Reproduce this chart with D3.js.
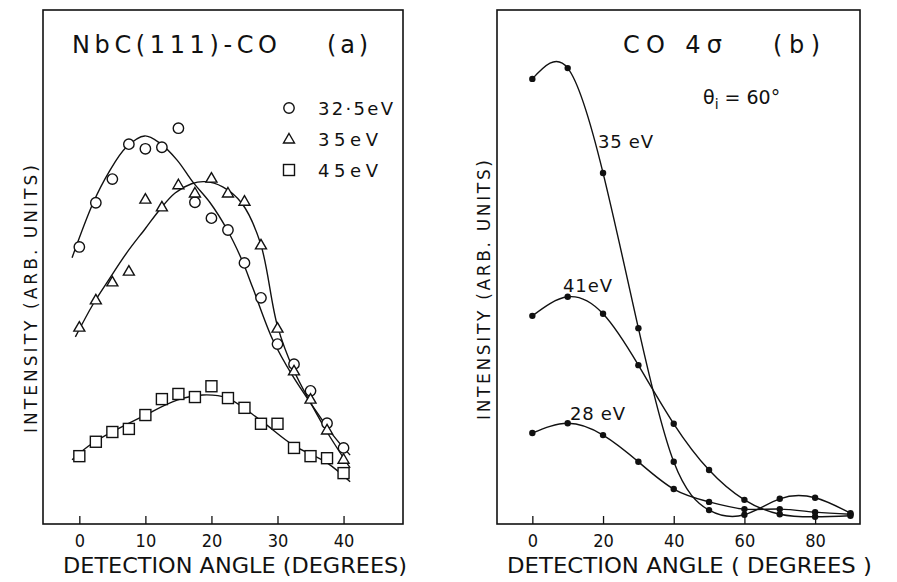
<!DOCTYPE html>
<html>
<head>
<meta charset="utf-8">
<script src="https://cdn.jsdelivr.net/npm/d3@7"></script>
<style>
  body { margin: 0; background: #fff; }
  svg { display: block; font-family: "DejaVu Sans", sans-serif; }
  .tick text { font-size: 18px; fill: #111; }
</style>
</head>
<body>
<div id="chart"></div>
<script>
// panel (a): NbC(111)-CO, angle step 2.5 deg
var anglesA = [0, 2.5, 5, 7.5, 10, 12.5, 15, 17.5, 20, 22.5, 25, 27.5, 30, 32.5, 35, 37.5, 40];
var int325 = [53.9, 62.5, 67.1, 73.9, 73.0, 73.3, 77.0, 62.6, 59.5, 57.2, 50.8, 44.0, 35.0, 31.1, 25.9, 19.6, 14.8];
var int35a = [38.3, 43.6, 47.1, 49.2, 63.2, 61.7, 66.0, 64.4, 67.3, 64.4, 62.8, 54.3, 38.1, 29.8, 24.3, 18.3, 12.6];
var int45 = [13.2, 16.0, 17.9, 18.5, 21.2, 24.3, 25.3, 24.7, 26.8, 24.5, 22.6, 19.5, 19.5, 14.8, 13.2, 12.8, 9.9];

// hand-drawn smooth fits
var fitAng325 = [-1.1, 2.1, 4.5, 7.1, 9.9, 12.2, 14.8, 17.2, 19.8, 22.4, 24.6, 26.3, 29.3, 32.3, 35.4, 38.4, 41.0];
var fitInt325 = [51.8, 62.5, 68.5, 73.3, 75.5, 74.1, 70.8, 66.5, 62.5, 57.2, 51.4, 45.8, 35.8, 28.8, 22.8, 17.3, 13.4];
var fitAng35a = [-0.6, 2.1, 4.6, 7.2, 10, 12.2, 14.5, 17, 19, 21.7, 24.6, 27.4, 30, 32.5, 35, 37.5, 41.0];
var fitInt35a = [36.4, 42.8, 47.8, 52.8, 57.5, 61.2, 64.4, 66.2, 66.6, 65.6, 62.4, 54.7, 38.5, 29.8, 23.6, 17.9, 10.9];
var fitAng45 = [-1.1, 2.1, 9.7, 14.8, 18.7, 22.4, 27.4, 32.3, 37.5, 41.0];
var fitInt45 = [12.5, 15.8, 21.0, 24.1, 25.1, 24.5, 20.2, 15.4, 11.9, 8.2];

var ticksA = [0, 10, 20, 30, 40];
var legendA = ["32·5eV", "35eV", "45eV"];

// panel (b): CO 4σ, θi = 60°
var anglesB = [0, 10, 20, 30, 40, 50, 60, 70, 80, 90];
var int35b = [86.6, 88.7, 68.3, 38.1, 12.1, 2.7, 1.8, 4.9, 5.1, 2.1];
var int41 = [40.5, 44.2, 40.9, 30.9, 19.5, 10.5, 4.7, 1.9, 1.4, 1.6];
var int28 = [17.7, 19.6, 17.3, 12.1, 6.8, 4.3, 2.9, 2.9, 2.3, 1.9];
var ticksB = [0, 20, 40, 60, 80];

var W = 897, H = 582;
var ink = "#111";

var svg = d3.select("#chart").append("svg")
    .attr("width", W)
    .attr("height", H);

svg.append("rect").attr("width", W).attr("height", H).attr("fill", "#fff");

// scales
var xA = d3.scaleLinear().domain([-5.5, 49]).range([43, 403]);
var xB = d3.scaleLinear().domain([-10, 92.7]).range([497, 860]);
var yS = d3.scaleLinear().domain([0, 100]).range([524, 10]);

function frame(x) {
    svg.append("rect")
        .attr("x", x.range()[0]).attr("y", yS.range()[1])
        .attr("width", x.range()[1] - x.range()[0])
        .attr("height", yS.range()[0] - yS.range()[1])
        .attr("fill", "none").attr("stroke", ink).attr("stroke-width", 1.6);
}
frame(xA);
frame(xB);

function axis(x, ticks) {
    var g = svg.append("g")
        .attr("transform", "translate(0," + yS.range()[0] + ")")
        .call(d3.axisBottom(x).tickValues(ticks).tickSize(-8).tickPadding(10).tickFormat(d3.format("d")));
    g.select(".domain").remove();
    g.selectAll(".tick line").attr("stroke", ink).attr("stroke-width", 1.3);
    g.selectAll(".tick text").attr("font-family", "DejaVu Sans Condensed, DejaVu Sans").attr("font-weight", 300);
}
axis(xA, ticksA);
axis(xB, ticksB);

function label(txt, x, y, size, len, rot, mode) {
    var t = svg.append("text")
        .attr("x", x).attr("y", y)
        .attr("font-size", size)
        .attr("fill", ink)
        .text(txt);
    if (len) t.attr("textLength", len).attr("lengthAdjust", mode || "spacingAndGlyphs");
    if (rot) t.attr("transform", "rotate(-90," + x + "," + y + ")");
    return t;
}

// axis titles
label("DETECTION ANGLE (DEGREES)", 63, 573, 21, 344);
label("DETECTION ANGLE ( DEGREES )", 507, 573, 21, 365);
label("INTENSITY  (ARB. UNITS)", 37, 433, 17, 268, true, "spacing");
label("INTENSITY  (ARB. UNITS)", 490, 420, 17, 260, true, "spacing");

// panel titles
label("NbC(111)-CO", 72, 53, 24, 205, false, "spacing");
label("(a)", 327, 53, 24, 41, false, "spacing");
label("CO 4σ", 623, 53, 24, 99, false, "spacing");
label("(b)", 773, 53, 24, 47, false, "spacing");

var th = svg.append("text").attr("x", 703).attr("y", 104).attr("font-size", 19).attr("fill", ink);
th.append("tspan").text("θ");
th.append("tspan").attr("font-size", 14).attr("dy", 5).text("i");
th.append("tspan").attr("dy", -5).text(" = 60°");

// panel (a) curves
var lineA = d3.line().x(function(d) { return xA(d[0]); }).y(function(d) { return yS(d[1]); })
    .curve(d3.curveCatmullRom.alpha(0.5));
[[fitAng325, fitInt325], [fitAng35a, fitInt35a], [fitAng45, fitInt45]].forEach(function(f) {
    svg.append("path")
        .attr("d", lineA(d3.zip(f[0], f[1])))
        .attr("fill", "none").attr("stroke", ink).attr("stroke-width", 1.4);
});

// markers
var triPath = "M0,-5.5L5.5,4L-5.5,4Z";
function marker(g, kind, cx, cy) {
    if (kind === 0) {
        g.append("circle").attr("cx", cx).attr("cy", cy).attr("r", 5.2);
    } else if (kind === 1) {
        g.append("path").attr("d", triPath).attr("transform", "translate(" + cx + "," + cy + ")");
    } else {
        g.append("rect").attr("x", cx - 5.5).attr("y", cy - 5.5).attr("width", 11).attr("height", 11);
    }
}

var mk = svg.append("g").attr("fill", "#fff").attr("stroke", ink).attr("stroke-width", 1.4);
[int325, int35a, int45].forEach(function(vals, k) {
    vals.forEach(function(v, i) { marker(mk, k, xA(anglesA[i]), yS(v)); });
});

// legend
legendA.forEach(function(txt, i) {
    var cy = 108 + i * 31;
    marker(mk, i, 289, cy);
    label(txt, 318, cy + 7, 18, i === 0 ? 75 : 60, false, "spacing");
});

// panel (b) curves through the points
var lineB = d3.line().x(function(d, i) { return xB(anglesB[i]); }).y(function(d) { return yS(d); })
    .curve(d3.curveNatural);
var dots = svg.append("g").attr("fill", ink);
[int35b, int41, int28].forEach(function(vals) {
    svg.append("path")
        .attr("d", lineB(vals))
        .attr("fill", "none").attr("stroke", ink).attr("stroke-width", 1.4);
    vals.forEach(function(v, i) {
        dots.append("circle").attr("cx", xB(anglesB[i])).attr("cy", yS(v)).attr("r", 3.2);
    });
});

label("35 eV", 598, 148, 18, 55, false, "spacing");
label("41eV", 563, 292, 18, 49, false, "spacing");
label("28 eV", 570, 420, 18, 55, false, "spacing");
</script>
</body>
</html>
